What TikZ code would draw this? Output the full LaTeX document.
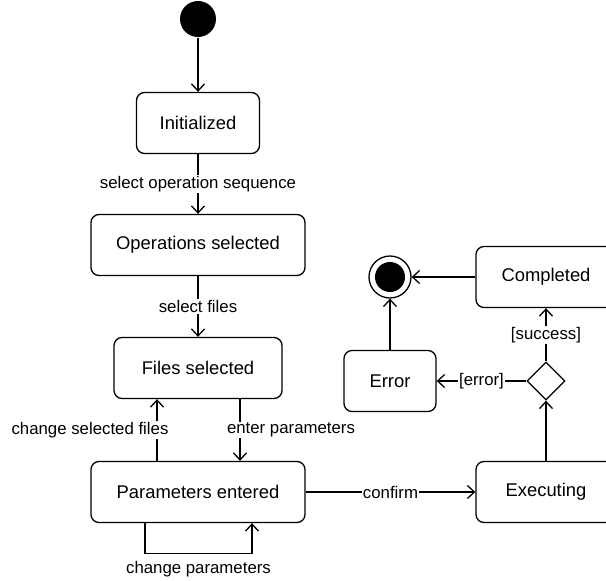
\documentclass[tikz,border=0pt]{standalone}
\usepackage{fontspec}
\setmainfont{Liberation Sans}
\usetikzlibrary{arrows.meta,shapes.geometric}

\tikzset{
  state/.style={draw, rounded corners=8pt, minimum height=61pt, inner sep=0pt,
    font=\fontsize{18.4}{22}\selectfont},
  flow/.style={-{Straight Barb[length=7pt,width=13pt]}},
  lbl/.style={fill=white, inner sep=1pt, font=\fontsize{16.8}{20}\selectfont},
  startdot/.style={circle, fill=black, minimum size=36pt, inner sep=0pt},
  enddot/.style={circle, draw, minimum size=42pt, inner sep=0pt,
    path picture={\fill (path picture bounding box.center) circle (15pt);}},
  choice/.style={diamond, draw, minimum size=38pt, inner sep=0pt}
}

\begin{document}
\begin{tikzpicture}[x=1pt, y=-1pt, line width=1.3pt]
  \useasboundingbox (0,0) rectangle (606,581);
  \clip (0,0) rectangle (606,581);

  % left column
  \node[startdot] (start) at (198,19) {};
  \node[state, minimum width=123pt] (init) at (198,123) {Initialized};
  \node[state, minimum width=214pt] (ops) at (198,245) {Operations selected};
  \node[state, minimum width=168pt] (files) at (198,368) {Files selected};
  \node[state, minimum width=214pt] (params) at (198,492) {Parameters entered};

  % right side
  \node[state, minimum width=140pt] (exec) at (546,492) {Executing};
  \node[choice] (check) at (546,381) {};
  \node[state, minimum width=140pt] (done) at (546,277) {Completed};
  \node[state, minimum width=92pt] (error) at (390,381) {Error};
  \node[enddot] (end) at (390,277) {};

  % transitions
  \draw[flow] (start) -- (init);
  \draw[flow] (init) -- node[lbl] {select operation sequence} (ops);
  \draw[flow] (ops) -- node[lbl] {select files} (files);
  \draw[flow] ([xshift=-41pt]params.north) -- node[lbl, xshift=-67pt] {change selected files} ([xshift=-41pt]files.south);
  \draw[flow] ([xshift=42pt]files.south) -- node[lbl, xshift=51pt] {enter parameters} ([xshift=42pt]params.north);
  \draw[flow] ([xshift=-53pt]params.south) |- node[lbl, below=7pt, pos=0.75] {change parameters}
    ([xshift=54pt,yshift=-30pt]params.south) -- ([xshift=54pt]params.south);
  \draw[flow] (params) -- node[lbl] {confirm} (exec);
  \draw[flow] (exec) -- (check);
  \draw[flow] (check) -- node[lbl] {[success]} (done);
  \draw[flow] (check) -- node[lbl] {[error]} (error);
  \draw[flow] (done) -- (end);
  \draw[flow] (error) -- (end);
\end{tikzpicture}
\end{document}
